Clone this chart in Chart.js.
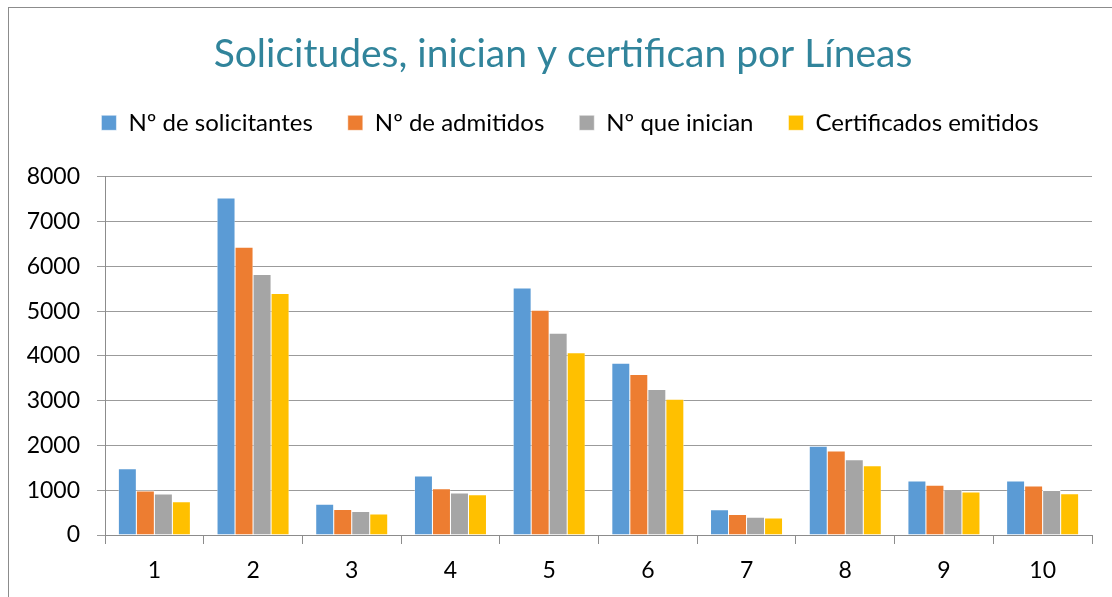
<!DOCTYPE html>
<html>
<head>
<meta charset="utf-8">
<script src="https://cdn.jsdelivr.net/npm/chart.js@4"></script>
<style>
  html, body { margin: 0; padding: 0; background: #fff; }
  #wrap { position: absolute; left: 0; top: 0; width: 1112px; height: 597px; }
</style>
</head>
<body>
<div id="wrap"><canvas id="lineas-chart"></canvas></div>
<script>
const categories = ['1', '2', '3', '4', '5', '6', '7', '8', '9', '10'];
const solicitantes = [1490, 7540, 700, 1330, 5530, 3845, 575, 1995, 1215, 1215];
const admitidos = [995, 6435, 580, 1045, 5030, 3595, 470, 1890, 1125, 1105];
const inician = [925, 5830, 535, 950, 4515, 3260, 410, 1690, 1030, 1005];
const certificados = [755, 5405, 480, 910, 4080, 3045, 390, 1555, 970, 935];
const yTicks = [0, 1000, 2000, 3000, 4000, 5000, 6000, 7000, 8000];

const fontFamily = 'Lato, "Open Sans", sans-serif';

// frame round the whole chart, as in the original export
const framePlugin = {
    id: 'frame',
    beforeDraw(chart) {
        const ctx = chart.ctx;
        ctx.save();
        ctx.fillStyle = '#fff';
        ctx.fillRect(0, 0, chart.width, chart.height);
        ctx.strokeStyle = '#8c8c8c';
        ctx.lineWidth = 1;
        ctx.strokeRect(8.5, 7.5, chart.width + 20, chart.height + 20);
        ctx.restore();
    }
};

// extra room between legend and plot area
const legendGapPlugin = {
    id: 'legendGap',
    beforeInit(chart) {
        const origFit = chart.legend.fit;
        chart.legend.fit = function () {
            origFit.bind(chart.legend)();
            this.height += 32;
        };
    },
    // title and legend sit a little right of the canvas centre in the original
    afterLayout(chart) {
        chart.titleBlock.left += 17;
        chart.titleBlock.right += 17;
        chart.legend.left += 24;
        chart.legend.right += 24;
    }
};

function makeDataset(label, data, color) {
    return {
        label: label,
        data: data,
        backgroundColor: color,
        borderColor: '#ffffff',
        borderWidth: { top: 1, left: 0.5, right: 0.5, bottom: 0 },
        borderSkipped: 'bottom'
    };
}

const chartData = {
    labels: categories,
    datasets: [
        makeDataset('Nº de solicitantes', solicitantes, '#5B9BD5'),
        makeDataset('Nº de admitidos', admitidos, '#ED7D31'),
        makeDataset('Nº que inician', inician, '#A5A5A5'),
        makeDataset('Certificados emitidos', certificados, '#FFC000')
    ]
};

const config = {
    type: 'bar',
    data: chartData,
    plugins: [framePlugin, legendGapPlugin],
    options: {
        responsive: true,
        maintainAspectRatio: false,
        animation: false,
        layout: { padding: { left: 0, right: 20, top: 0, bottom: 0 } },
        datasets: {
            bar: { categoryPercentage: 0.73, barPercentage: 1.0 }
        },
        plugins: {
            title: {
                display: true,
                text: 'Solicitudes, inician y certifican por Líneas',
                color: '#31849B',
                font: { family: fontFamily, size: 39, weight: 'normal' },
                padding: { top: 31, bottom: -2 }
            },
            legend: {
                display: true,
                labels: {
                    color: '#000',
                    font: { family: fontFamily, size: 24 },
                    boxWidth: 15,
                    boxHeight: 15,
                    padding: 35
                }
            },
            tooltip: { enabled: false }
        },
        scales: {
            x: {
                grid: {
                    display: true,
                    drawOnChartArea: false,
                    color: '#8c8c8c',
                    tickLength: 9
                },
                border: { display: true, color: '#8c8c8c', width: 1 },
                ticks: {
                    color: '#000',
                    font: { family: fontFamily, size: 23 },
                    padding: 13
                },
                afterFit(scale) { scale.height = 62; }
            },
            y: {
                min: 0,
                max: 8000,
                afterBuildTicks(scale) {
                    scale.ticks = yTicks.map(v => ({ value: v }));
                },
                grid: {
                    color: '#9b9b9b',
                    tickLength: 8
                },
                border: { display: true, color: '#8c8c8c', width: 1 },
                ticks: {
                    color: '#000',
                    font: { family: fontFamily, size: 23 },
                    padding: 17,
                    callback: value => String(value)
                },
                afterFit(scale) { scale.width = 105; }
            }
        }
    }
};

new Chart(document.getElementById('lineas-chart'), config);
</script>
</body>
</html>
